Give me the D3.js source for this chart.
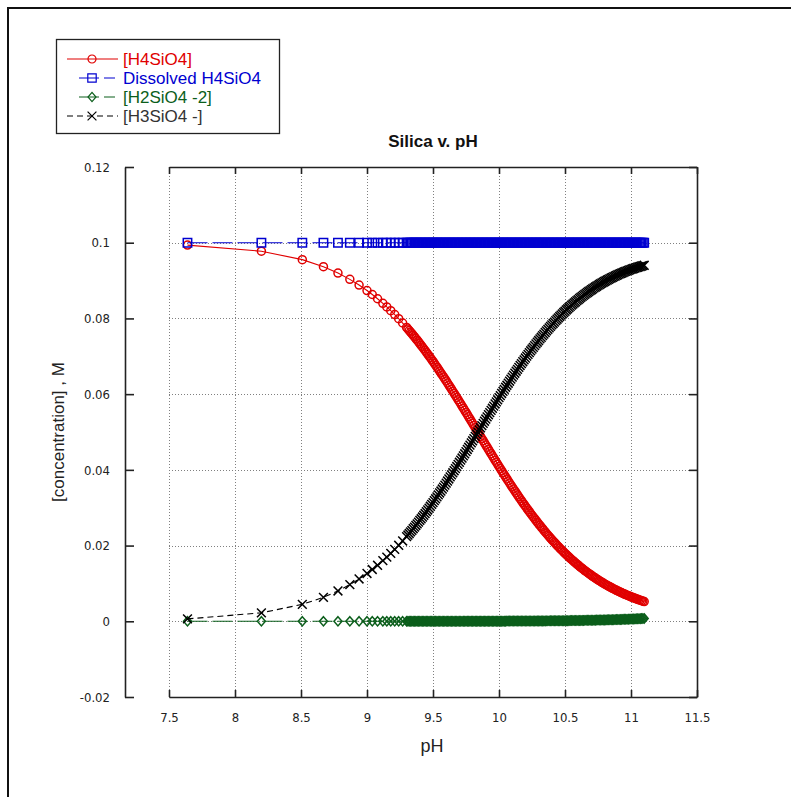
<!DOCTYPE html>
<html>
<head>
<meta charset="utf-8">
<script src="https://cdn.jsdelivr.net/npm/d3@7"></script>
<style>
  html, body { margin: 0; padding: 0; background: #fff; }
  svg { display: block; }
  text { font-family: "Liberation Sans", Arial, sans-serif; }
  .tick text { font-family: "Liberation Sans Narrow", "DejaVu Sans Condensed", sans-serif; font-size: 13px; fill: #222; }
</style>
</head>
<body>
<svg width="791" height="797"></svg>
<script>
// pH of each step
const pH = [
  7.64, 8.20, 8.51, 8.67, 8.78, 8.87, 8.94, 9.00, 9.04, 9.08,
  9.12, 9.15, 9.18, 9.21, 9.24, 9.27, 9.30,
  9.31, 9.32, 9.33, 9.34, 9.35, 9.36, 9.37, 9.38, 9.39, 9.40,
  9.41, 9.42, 9.43, 9.44, 9.45, 9.46, 9.47, 9.48, 9.49, 9.50,
  9.51, 9.52, 9.53, 9.54, 9.55, 9.56, 9.57, 9.58, 9.59, 9.60,
  9.61, 9.62, 9.63, 9.64, 9.65, 9.66, 9.67, 9.68, 9.69, 9.70,
  9.71, 9.72, 9.73, 9.74, 9.75, 9.76, 9.77, 9.78, 9.79, 9.80,
  9.81, 9.82, 9.83, 9.84, 9.85, 9.86, 9.87, 9.88, 9.89, 9.90,
  9.91, 9.92, 9.93, 9.94, 9.95, 9.96, 9.97, 9.98, 9.99, 10.00,
  10.01, 10.02, 10.03, 10.04, 10.05, 10.06, 10.07, 10.08, 10.09, 10.10,
  10.11, 10.12, 10.13, 10.14, 10.15, 10.16, 10.17, 10.18, 10.19, 10.20,
  10.21, 10.22, 10.23, 10.24, 10.25, 10.26, 10.27, 10.28, 10.29, 10.30,
  10.31, 10.32, 10.33, 10.34, 10.35, 10.36, 10.37, 10.38, 10.39, 10.40,
  10.41, 10.42, 10.43, 10.44, 10.45, 10.46, 10.47, 10.48, 10.49, 10.50,
  10.51, 10.52, 10.53, 10.54, 10.55, 10.56, 10.57, 10.58, 10.59, 10.60,
  10.61, 10.62, 10.63, 10.64, 10.65, 10.66, 10.67, 10.68, 10.69, 10.70,
  10.71, 10.72, 10.73, 10.74, 10.75, 10.76, 10.77, 10.78, 10.79, 10.80,
  10.81, 10.82, 10.83, 10.84, 10.85, 10.86, 10.87, 10.88, 10.89, 10.90,
  10.91, 10.92, 10.93, 10.94, 10.95, 10.96, 10.97, 10.98, 10.99, 11.00,
  11.01, 11.02, 11.03, 11.04, 11.05, 11.06, 11.07, 11.08, 11.09, 11.10
];

// [H4SiO4]
const h4sio4 = [
  0.09937, 0.09776, 0.09553, 0.09367, 0.09199, 0.09032, 0.08882, 0.08737, 0.08632, 0.08520,
  0.08399, 0.08305, 0.08205, 0.08101, 0.07992, 0.07879, 0.07762,
  0.07721, 0.07680, 0.07639, 0.07598, 0.07555, 0.07513, 0.07469, 0.07426, 0.07381, 0.07336,
  0.07291, 0.07245, 0.07199, 0.07153, 0.07105, 0.07058, 0.07010, 0.06961, 0.06912, 0.06863,
  0.06813, 0.06763, 0.06712, 0.06661, 0.06610, 0.06558, 0.06506, 0.06454, 0.06401, 0.06348,
  0.06294, 0.06240, 0.06186, 0.06131, 0.06076, 0.06022, 0.05966, 0.05911, 0.05855, 0.05799,
  0.05743, 0.05686, 0.05630, 0.05573, 0.05516, 0.05459, 0.05402, 0.05345, 0.05287, 0.05230,
  0.05172, 0.05115, 0.05058, 0.05000, 0.04942, 0.04885, 0.04827, 0.04770, 0.04712, 0.04655,
  0.04598, 0.04541, 0.04484, 0.04427, 0.04370, 0.04314, 0.04257, 0.04201, 0.04145, 0.04089,
  0.04034, 0.03978, 0.03923, 0.03869, 0.03814, 0.03760, 0.03706, 0.03653, 0.03599, 0.03546,
  0.03494, 0.03442, 0.03390, 0.03339, 0.03288, 0.03237, 0.03187, 0.03137, 0.03088, 0.03039,
  0.02990, 0.02942, 0.02895, 0.02847, 0.02801, 0.02755, 0.02709, 0.02664, 0.02619, 0.02575,
  0.02531, 0.02488, 0.02445, 0.02403, 0.02361, 0.02319, 0.02279, 0.02238, 0.02199, 0.02159,
  0.02121, 0.02083, 0.02045, 0.02008, 0.01971, 0.01935, 0.01899, 0.01864, 0.01829, 0.01795,
  0.01761, 0.01728, 0.01695, 0.01663, 0.01632, 0.01600, 0.01570, 0.01540, 0.01510, 0.01481,
  0.01452, 0.01423, 0.01395, 0.01368, 0.01341, 0.01315, 0.01289, 0.01263, 0.01238, 0.01213,
  0.01189, 0.01165, 0.01141, 0.01118, 0.01096, 0.01073, 0.01051, 0.01030, 0.01009, 0.00988,
  0.00968, 0.00948, 0.00928, 0.00909, 0.00890, 0.00872, 0.00854, 0.00836, 0.00818, 0.00801,
  0.00784, 0.00768, 0.00752, 0.00736, 0.00720, 0.00705, 0.00690, 0.00675, 0.00661, 0.00647,
  0.00633, 0.00620, 0.00607, 0.00594, 0.00581, 0.00568, 0.00557, 0.00544, 0.00532, 0.00521
];

// Dissolved H4SiO4
const dissolvedH4SiO4 = [
  0.1, 0.1, 0.1, 0.1, 0.1, 0.1, 0.1, 0.1, 0.1, 0.1,
  0.1, 0.1, 0.1, 0.1, 0.1, 0.1, 0.1,
  0.1, 0.1, 0.1, 0.1, 0.1, 0.1, 0.1, 0.1, 0.1, 0.1,
  0.1, 0.1, 0.1, 0.1, 0.1, 0.1, 0.1, 0.1, 0.1, 0.1,
  0.1, 0.1, 0.1, 0.1, 0.1, 0.1, 0.1, 0.1, 0.1, 0.1,
  0.1, 0.1, 0.1, 0.1, 0.1, 0.1, 0.1, 0.1, 0.1, 0.1,
  0.1, 0.1, 0.1, 0.1, 0.1, 0.1, 0.1, 0.1, 0.1, 0.1,
  0.1, 0.1, 0.1, 0.1, 0.1, 0.1, 0.1, 0.1, 0.1, 0.1,
  0.1, 0.1, 0.1, 0.1, 0.1, 0.1, 0.1, 0.1, 0.1, 0.1,
  0.1, 0.1, 0.1, 0.1, 0.1, 0.1, 0.1, 0.1, 0.1, 0.1,
  0.1, 0.1, 0.1, 0.1, 0.1, 0.1, 0.1, 0.1, 0.1, 0.1,
  0.1, 0.1, 0.1, 0.1, 0.1, 0.1, 0.1, 0.1, 0.1, 0.1,
  0.1, 0.1, 0.1, 0.1, 0.1, 0.1, 0.1, 0.1, 0.1, 0.1,
  0.1, 0.1, 0.1, 0.1, 0.1, 0.1, 0.1, 0.1, 0.1, 0.1,
  0.1, 0.1, 0.1, 0.1, 0.1, 0.1, 0.1, 0.1, 0.1, 0.1,
  0.1, 0.1, 0.1, 0.1, 0.1, 0.1, 0.1, 0.1, 0.1, 0.1,
  0.1, 0.1, 0.1, 0.1, 0.1, 0.1, 0.1, 0.1, 0.1, 0.1,
  0.1, 0.1, 0.1, 0.1, 0.1, 0.1, 0.1, 0.1, 0.1, 0.1,
  0.1, 0.1, 0.1, 0.1, 0.1, 0.1, 0.1, 0.1, 0.1, 0.1,
  0.1, 0.1, 0.1, 0.1, 0.1, 0.1, 0.1, 0.1, 0.1, 0.1
];

// [H2SiO4 -2]
const h2sio4 = [
  0, 0, 0, 0, 0, 0, 0, 0, 0, 0,
  0, 0, 0, 0, 0, 0, 0,
  0, 0, 0, 0, 0, 0, 0, 0, 0, 0,
  0.00001, 0.00001, 0.00001, 0.00001, 0.00001, 0.00001, 0.00001, 0.00001, 0.00001, 0.00001,
  0.00001, 0.00001, 0.00001, 0.00001, 0.00001, 0.00001, 0.00001, 0.00001, 0.00001, 0.00001,
  0.00001, 0.00001, 0.00001, 0.00001, 0.00001, 0.00001, 0.00001, 0.00001, 0.00001, 0.00001,
  0.00001, 0.00001, 0.00002, 0.00002, 0.00002, 0.00002, 0.00002, 0.00002, 0.00002, 0.00002,
  0.00002, 0.00002, 0.00002, 0.00002, 0.00002, 0.00003, 0.00003, 0.00003, 0.00003, 0.00003,
  0.00003, 0.00003, 0.00003, 0.00003, 0.00003, 0.00003, 0.00003, 0.00004, 0.00004, 0.00004,
  0.00004, 0.00004, 0.00004, 0.00004, 0.00004, 0.00005, 0.00005, 0.00005, 0.00005, 0.00005,
  0.00005, 0.00005, 0.00005, 0.00006, 0.00006, 0.00006, 0.00006, 0.00006, 0.00006, 0.00007,
  0.00007, 0.00007, 0.00007, 0.00008, 0.00008, 0.00008, 0.00008, 0.00009, 0.00009, 0.00009,
  0.00009, 0.00010, 0.00010, 0.00010, 0.00010, 0.00011, 0.00011, 0.00011, 0.00012, 0.00012,
  0.00012, 0.00013, 0.00013, 0.00013, 0.00014, 0.00014, 0.00015, 0.00015, 0.00015, 0.00016,
  0.00016, 0.00017, 0.00017, 0.00018, 0.00018, 0.00019, 0.00019, 0.00020, 0.00020, 0.00021,
  0.00021, 0.00022, 0.00022, 0.00023, 0.00024, 0.00025, 0.00025, 0.00026, 0.00027, 0.00028,
  0.00028, 0.00029, 0.00030, 0.00031, 0.00031, 0.00032, 0.00033, 0.00034, 0.00035, 0.00036,
  0.00037, 0.00038, 0.00039, 0.00040, 0.00041, 0.00042, 0.00043, 0.00044, 0.00045, 0.00046,
  0.00047, 0.00048, 0.00049, 0.00051, 0.00052, 0.00053, 0.00054, 0.00056, 0.00057, 0.00059,
  0.00060, 0.00062, 0.00063, 0.00065, 0.00066, 0.00068, 0.00070, 0.00072, 0.00073, 0.00075
];

// [H3SiO4 -]
const h3sio4 = [
  0.00063, 0.00224, 0.00447, 0.00633, 0.00801, 0.00968, 0.01118, 0.01263, 0.01368, 0.01480,
  0.01601, 0.01695, 0.01795, 0.01899, 0.02008, 0.02121, 0.02238,
  0.02279, 0.02320, 0.02361, 0.02402, 0.02445, 0.02487, 0.02531, 0.02574, 0.02619, 0.02664,
  0.02708, 0.02754, 0.02800, 0.02846, 0.02894, 0.02941, 0.02989, 0.03038, 0.03087, 0.03136,
  0.03186, 0.03236, 0.03287, 0.03338, 0.03389, 0.03441, 0.03493, 0.03545, 0.03598, 0.03651,
  0.03705, 0.03759, 0.03813, 0.03868, 0.03923, 0.03977, 0.04033, 0.04088, 0.04144, 0.04200,
  0.04256, 0.04313, 0.04368, 0.04425, 0.04482, 0.04539, 0.04596, 0.04653, 0.04711, 0.04768,
  0.04826, 0.04883, 0.04940, 0.04998, 0.05056, 0.05112, 0.05170, 0.05227, 0.05285, 0.05342,
  0.05399, 0.05456, 0.05513, 0.05570, 0.05627, 0.05683, 0.05740, 0.05795, 0.05851, 0.05907,
  0.05962, 0.06018, 0.06073, 0.06127, 0.06182, 0.06235, 0.06289, 0.06342, 0.06396, 0.06449,
  0.06501, 0.06553, 0.06605, 0.06655, 0.06706, 0.06757, 0.06807, 0.06857, 0.06906, 0.06954,
  0.07003, 0.07051, 0.07098, 0.07145, 0.07191, 0.07237, 0.07283, 0.07327, 0.07372, 0.07416,
  0.07460, 0.07502, 0.07545, 0.07587, 0.07629, 0.07670, 0.07710, 0.07751, 0.07789, 0.07829,
  0.07867, 0.07904, 0.07942, 0.07979, 0.08015, 0.08051, 0.08086, 0.08121, 0.08156, 0.08189,
  0.08223, 0.08255, 0.08288, 0.08319, 0.08350, 0.08381, 0.08411, 0.08440, 0.08470, 0.08498,
  0.08527, 0.08555, 0.08583, 0.08609, 0.08635, 0.08660, 0.08686, 0.08711, 0.08735, 0.08759,
  0.08783, 0.08806, 0.08829, 0.08851, 0.08873, 0.08895, 0.08916, 0.08936, 0.08956, 0.08976,
  0.08995, 0.09014, 0.09033, 0.09051, 0.09069, 0.09086, 0.09103, 0.09120, 0.09137, 0.09153,
  0.09169, 0.09184, 0.09199, 0.09213, 0.09228, 0.09242, 0.09256, 0.09269, 0.09282, 0.09294,
  0.09307, 0.09318, 0.09330, 0.09341, 0.09353, 0.09364, 0.09373, 0.09384, 0.09395, 0.09404
];

const xTicks = [7.5, 8, 8.5, 9, 9.5, 10, 10.5, 11, 11.5];
const yTicks = [-0.02, 0, 0.02, 0.04, 0.06, 0.08, 0.1, 0.12];

const series = [
  { name: "[H4SiO4]", values: h4sio4, color: "#e00000", marker: "circle", dash: null },
  { name: "Dissolved H4SiO4", values: dissolvedH4SiO4, color: "#0000d0", marker: "square", dash: "20,5" },
  { name: "[H2SiO4 -2]", values: h2sio4, color: "#0b5e1b", marker: "diamond", dash: "20,5" },
  { name: "[H3SiO4 -]", values: h3sio4, color: "#000000", marker: "x", dash: "6,4" },
];

const svg = d3.select("svg");

// outer frame (only top and left edges show in the picture)
svg.append("path")
  .attr("d", "M8,797V8H791")
  .attr("fill", "none")
  .attr("stroke", "#111")
  .attr("stroke-width", 2);

const x = d3.scaleLinear().domain([7.5, 11.5]).range([169, 697]);
const y = d3.scaleLinear().domain([-0.02, 0.12]).range([697, 167]);

// dotted grid
const grid = svg.append("g")
  .attr("stroke", "#808080")
  .attr("stroke-width", 1)
  .attr("stroke-dasharray", "1,2");
grid.selectAll("line.gx")
  .data(xTicks)
  .enter()
  .append("line")
  .attr("x1", (d) => Math.round(x(d)) + 0.5)
  .attr("x2", (d) => Math.round(x(d)) + 0.5)
  .attr("y1", y(0.12))
  .attr("y2", y(-0.02));
grid.selectAll("line.gy")
  .data(yTicks)
  .enter()
  .append("line")
  .attr("x1", x(7.5))
  .attr("x2", x(11.5))
  .attr("y1", (d) => Math.round(y(d)) + 0.5)
  .attr("y2", (d) => Math.round(y(d)) + 0.5);

const fmt = (d) => String(+d.toFixed(2));

function styleAxis(g) {
  g.selectAll("path.domain").attr("stroke", "#222").attr("stroke-width", 1.6);
  g.selectAll(".tick line").attr("stroke", "#222").attr("stroke-width", 1.6);
}

svg.append("g")
  .attr("transform", "translate(125,0)")
  .call(d3.axisLeft(y).tickValues(yTicks).tickFormat(fmt)
    .tickSizeInner(-9).tickSizeOuter(0).tickPadding(15))
  .call(styleAxis);

svg.append("g")
  .attr("transform", "translate(0,697)")
  .call(d3.axisBottom(x).tickValues(xTicks).tickFormat(fmt)
    .tickSizeInner(-7).tickSizeOuter(0).tickPadding(16))
  .call(styleAxis);

svg.append("g")
  .attr("transform", "translate(0,167)")
  .call(d3.axisTop(x).tickValues(xTicks).tickFormat("")
    .tickSizeInner(-7).tickSizeOuter(0))
  .call(styleAxis);

svg.append("g")
  .attr("transform", "translate(697,0)")
  .call(d3.axisRight(y).tickValues(yTicks).tickFormat("")
    .tickSizeInner(-8).tickSizeOuter(0))
  .call(styleAxis);

svg.selectAll(".tick text").attr("font-size", null).attr("font-family", null);

function markerPath(type) {
  switch (type) {
    case "circle": return "M-4,0A4,4 0 1,0 4,0A4,4 0 1,0 -4,0Z";
    case "square": return "M-4.2,-4.2H4.2V4.2H-4.2Z";
    case "diamond": return "M0,-4.6L4,0L0,4.6L-4,0Z";
    case "x": return "M-4.4,-4.4L4.4,4.4M4.4,-4.4L-4.4,4.4";
  }
}

const line = d3.line()
  .x((d, i) => x(pH[i]))
  .y((d) => y(d));

series.forEach((s) => {
  const g = svg.append("g");
  g.append("path")
    .attr("d", line(s.values))
    .attr("fill", "none")
    .attr("stroke", s.color)
    .attr("stroke-width", 1.1)
    .attr("stroke-dasharray", s.dash);
  g.selectAll("path.m")
    .data(s.values)
    .enter()
    .append("path")
    .attr("class", "m")
    .attr("d", markerPath(s.marker))
    .attr("transform", (d, i) => `translate(${x(pH[i])},${y(d)})`)
    .attr("fill", "none")
    .attr("stroke", s.color)
    .attr("stroke-width", 1.5);
});

// title and axis titles
svg.append("text")
  .attr("x", 433)
  .attr("y", 147)
  .attr("text-anchor", "middle")
  .attr("font-size", 17)
  .attr("font-weight", "bold")
  .attr("fill", "#111")
  .text("Silica v. pH");

svg.append("text")
  .attr("x", 432)
  .attr("y", 752)
  .attr("text-anchor", "middle")
  .attr("font-size", 18)
  .attr("fill", "#222")
  .text("pH");

svg.append("text")
  .attr("transform", "translate(58,432) rotate(-90)")
  .attr("dy", "0.35em")
  .attr("text-anchor", "middle")
  .attr("font-size", 17)
  .attr("fill", "#222")
  .text("[concentration] , M");

// legend
const legend = svg.append("g");
legend.append("rect")
  .attr("x", 56.5)
  .attr("y", 39.5)
  .attr("width", 223)
  .attr("height", 94)
  .attr("fill", "#fff")
  .attr("stroke", "#222")
  .attr("stroke-width", 1.3);

const legendLines = [[67, 118], [79, 115], [79, 115], [67, 118]];
series.forEach((s, i) => {
  const ly = 59 + i * 19;
  legend.append("line")
    .attr("x1", legendLines[i][0])
    .attr("x2", legendLines[i][1])
    .attr("y1", ly)
    .attr("y2", ly)
    .attr("stroke", s.color)
    .attr("stroke-width", 1.1)
    .attr("stroke-dasharray", s.dash);
  legend.append("path")
    .attr("d", markerPath(s.marker))
    .attr("transform", `translate(92,${ly})`)
    .attr("fill", "none")
    .attr("stroke", s.color)
    .attr("stroke-width", 1.2);
  legend.append("text")
    .attr("x", 123)
    .attr("y", ly)
    .attr("dy", "0.35em")
    .attr("font-size", 17)
    .attr("fill", s.color === "#000000" ? "#333" : s.color)
    .text(s.name);
});
</script>
</body>
</html>
